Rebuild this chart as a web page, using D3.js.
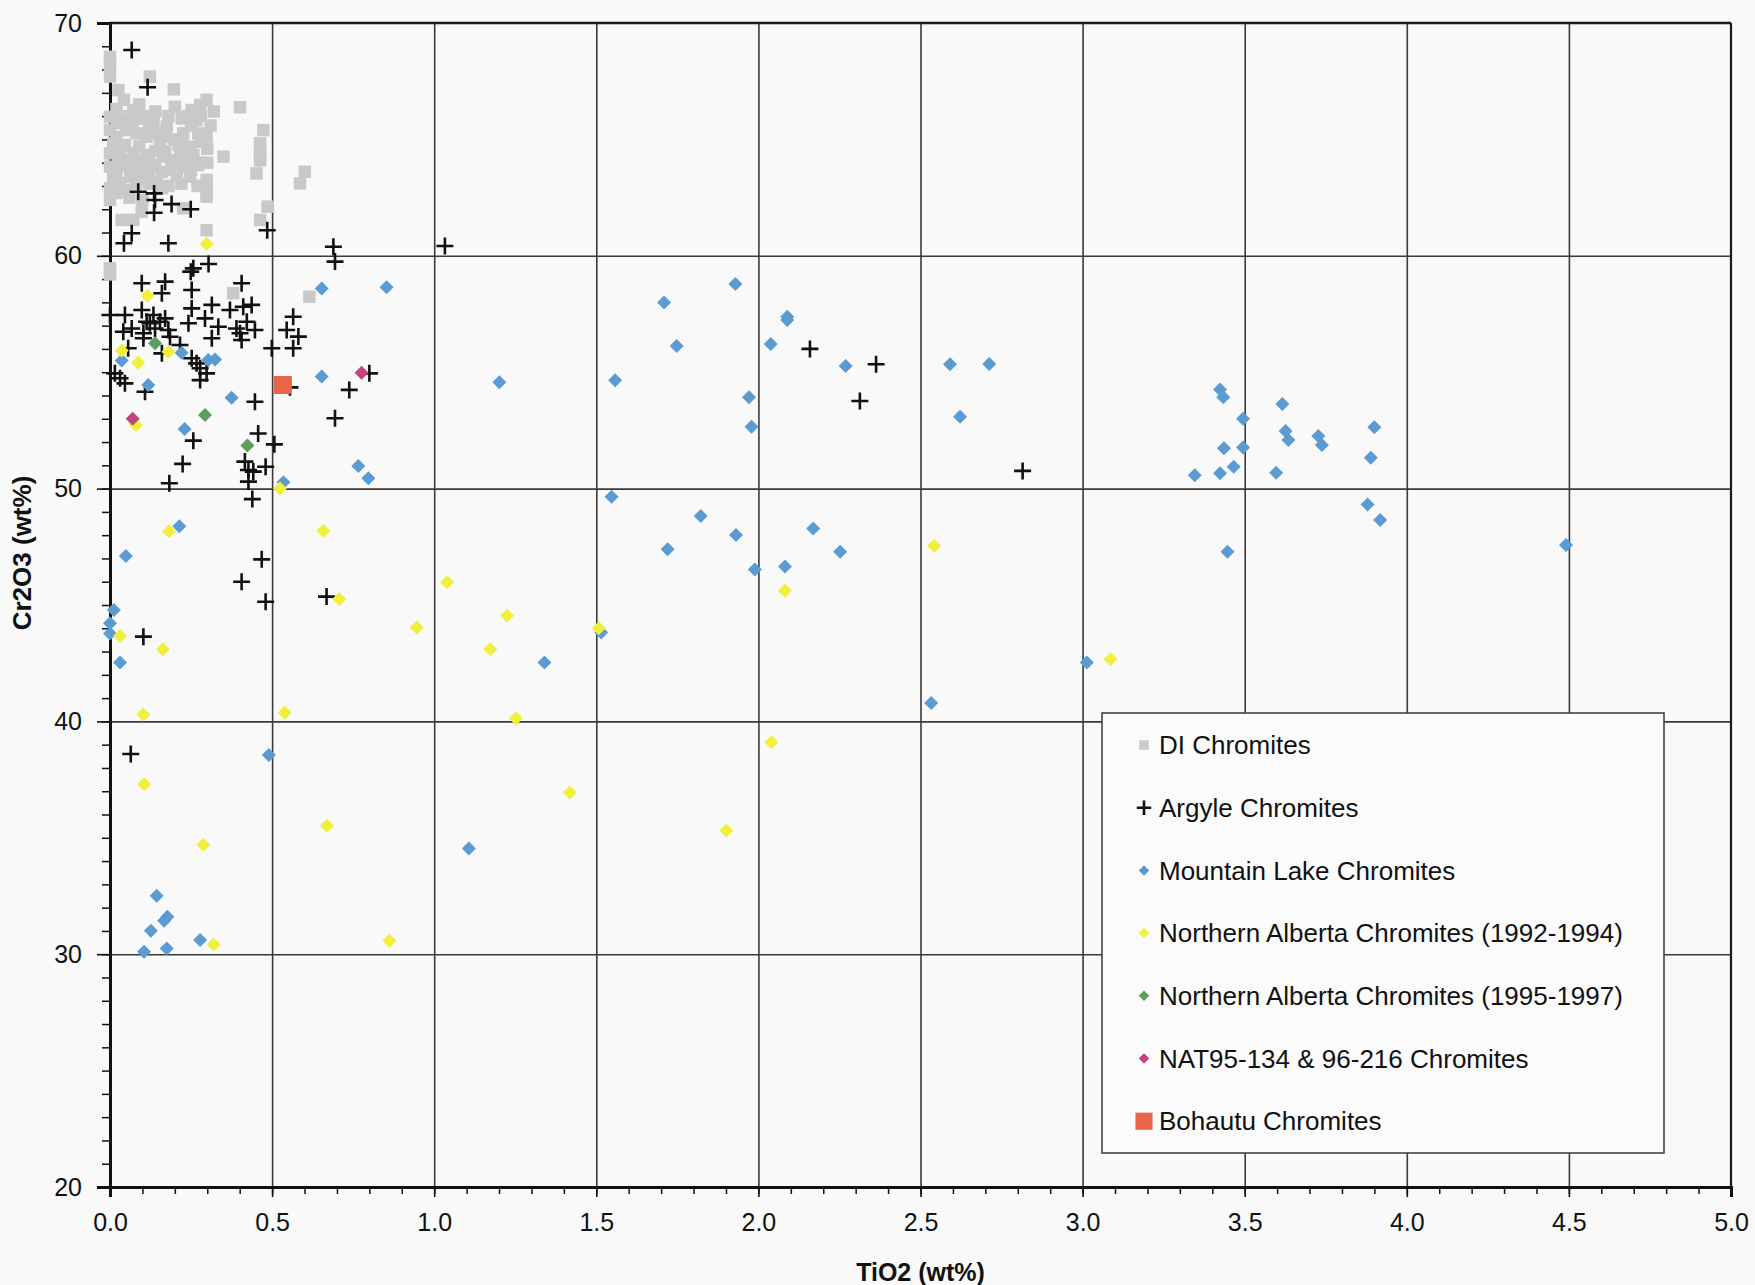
<!DOCTYPE html>
<html>
<head>
<meta charset="utf-8">
<script src="https://cdn.jsdelivr.net/npm/d3@7"></script>
<style>
  html, body { margin: 0; padding: 0; background: #f8f9f8; }
  svg { display: block; }
  text { font-family: "Liberation Sans", Arial, sans-serif; fill: #111; }
</style>
</head>
<body>
<svg id="chart" width="1755" height="1285"></svg>
<script>
// ---------------- DATA (TiO2 wt%, Cr2O3 wt%) ----------------
const diChromites = [
  [0.0,68.55],[0.0,68.12],[0.0,67.7],[0.123,67.7],[0.197,67.15],[0.026,67.12],[0.043,66.7],[0.072,66.26],
  [0.298,66.7],[0.278,66.48],[0.252,66.26],[0.401,66.38],[0.221,65.9],[0.267,65.83],[0.0,65.97],[0.03,65.83],
  [0.093,65.9],[0.134,65.69],[0.175,65.55],[0.473,65.4],[0.0,65.4],[0.05,65.4],[0.082,65.26],[0.113,65.12],
  [0.226,65.26],[0.272,65.26],[0.298,65.12],[0.463,64.83],[0.01,64.83],[0.046,64.76],[0.154,64.83],[0.211,64.76],
  [0.247,64.69],[0.0,64.4],[0.031,64.33],[0.072,64.4],[0.113,64.33],[0.164,64.26],[0.216,64.26],[0.257,64.33],
  [0.35,64.26],[0.463,64.26],[0.0,63.83],[0.05,63.9],[0.093,63.83],[0.139,63.9],[0.226,63.83],[0.272,63.9],
  [0.01,63.4],[0.062,63.4],[0.103,63.33],[0.206,63.47],[0.247,63.4],[0.452,63.54],[0.0,62.9],[0.046,62.83],
  [0.144,63.18],[0.298,62.97],[0.298,62.54],[0.0,62.4],[0.601,63.61],[0.586,63.11],[0.486,62.11],[0.463,61.54],
  [0.036,61.54],[0.072,61.54],[0.098,61.9],[0.226,62.04],[0.298,61.1],[0.0,59.46],[0.0,59.2],[0.38,58.39],
  [0.615,58.24],[0.463,64.55],[0.463,64.1],[0.298,63.26],[0.298,62.68],[0.02,65.1],[0.06,64.1],[0.12,64.0],
  [0.17,64.5],[0.19,63.7],[0.09,64.7],[0.15,65.3],[0.2,65.0],[0.24,64.0],[0.12,63.6],[0.08,63.1],
  [0.18,63.0],[0.25,65.6],[0.28,64.9],[0.3,64.6],[0.11,66.0],[0.06,66.0],
  [0.02,66.3],[0.09,66.5],[0.14,66.2],[0.18,66.0],[0.2,66.4],[0.24,66.0],[0.03,64.1],[0.07,64.0],
  [0.1,64.1],[0.14,64.5],[0.19,64.1],[0.23,64.5],[0.27,64.0],[0.3,64.0],[0.02,63.6],[0.07,63.6],
  [0.16,63.6],[0.2,63.8],[0.25,63.7],[0.03,63.1],[0.12,63.1],[0.16,62.9],[0.22,63.1],[0.27,63.0],
  [0.02,62.7],[0.06,62.5],[0.1,62.4],[0.02,65.7],[0.07,65.6],[0.12,65.5],[0.17,65.1],[0.22,64.9],
  [0.31,65.6],[0.32,66.2],[0.28,66.0]
];
const argyleChromites = [
  [0.067,68.84],[0.116,67.24],[0.087,62.75],[0.136,62.68],[0.139,62.4],[0.136,61.85],[0.19,62.22],[0.249,62.0],
  [0.067,60.97],[0.043,60.54],[0.18,60.54],[0.485,61.1],[0.689,60.39],[0.694,59.75],[1.033,60.42],
  [0.257,59.46],[0.304,59.65],[0.249,59.32],[0.098,58.82],[0.17,58.89],[0.16,58.39],[0.252,58.53],[0.406,58.82],
  [0.252,57.74],[0.314,57.89],[0.293,57.31],[0.242,57.1],[0.334,56.95],[0.314,56.46],[0.37,57.67],[0.411,57.81],
  [0.437,57.89],[0.422,57.17],[0.447,56.81],[0.401,56.67],[0.406,56.38],[0.39,56.88],[0.046,57.46],[0.0,57.46],
  [0.098,57.67],[0.134,57.46],[0.17,57.31],[0.113,57.17],[0.067,56.88],[0.041,56.74],[0.103,56.67],[0.139,56.88],
  [0.18,56.81],[0.123,57.1],[0.154,57.17],[0.185,56.52],[0.103,56.46],[0.216,56.17],[0.16,55.81],[0.056,56.03],
  [0.499,56.03],[0.252,55.6],[0.267,55.38],[0.278,55.17],[0.298,54.95],[0.278,54.66],[0.015,54.95],[0.031,54.74],
  [0.046,54.52],[0.108,54.16],[0.447,53.73],[0.565,57.38],[0.545,56.81],[0.581,56.53],[0.565,56.03],[0.694,53.02],
  [0.457,52.37],[0.555,54.35],[0.8,54.95],[0.738,54.24],[0.257,52.06],[0.507,51.9],[0.224,51.06],[0.183,50.23],
  [0.416,51.16],[0.427,50.8],[0.427,50.3],[0.442,50.73],[0.48,50.94],[0.439,49.55],[0.468,46.96],[0.406,46.0],
  [0.48,45.14],[0.668,45.36],[0.103,43.64],[0.064,38.6],[2.159,56.0],[2.363,55.34],[2.313,53.76],[2.815,50.76]
];
const mountainLakeChromites = [
  [0.036,55.5],[0.118,54.45],[0.221,55.84],[0.303,55.52],[0.324,55.55],[0.375,53.9],[0.23,52.56],[0.214,48.38],
  [0.049,47.1],[0.012,44.78],[0.0,44.22],[0.0,43.78],[0.031,42.53],[0.49,38.56],[0.144,32.51],[0.177,31.61],
  [0.167,31.44],[0.126,31.01],[0.278,30.61],[0.105,30.1],[0.175,30.25],[0.535,50.27],[0.653,54.81],[0.653,58.6],
  [0.853,58.65],[0.766,50.97],[0.797,50.44],[1.201,54.57],[1.558,54.65],[1.547,49.65],[1.929,58.79],[1.709,57.99],
  [2.089,57.38],[2.089,57.24],[1.748,56.13],[2.038,56.21],[2.269,55.27],[1.971,53.92],[1.979,52.66],[2.591,55.34],
  [2.712,55.35],[2.622,53.09],[1.822,48.82],[1.931,48.01],[1.72,47.4],[2.252,47.29],[2.169,48.29],[1.989,46.53],
  [2.082,46.65],[1.34,42.53],[1.515,43.82],[2.533,40.79],[3.013,42.53],[1.107,34.54],
  [3.424,54.26],[3.434,53.92],[3.616,53.63],[3.495,53.0],[3.9,52.63],[3.626,52.47],[3.635,52.09],[3.727,52.26],
  [3.738,51.87],[3.436,51.73],[3.495,51.77],[3.889,51.33],[3.466,50.94],[3.424,50.66],[3.346,50.57],[3.597,50.68],
  [3.879,49.32],[3.918,48.65],[3.447,47.29],[4.491,47.58]
];
const northernAlberta9294 = [
  [0.298,60.52],[0.115,58.28],[0.036,55.93],[0.087,55.41],[0.18,55.88],[0.08,52.73],[0.182,48.17],[0.658,48.19],
  [0.524,50.0],[0.707,45.26],[0.031,43.67],[0.163,43.1],[0.103,40.3],[0.539,40.37],[0.105,37.3],[0.288,34.7],
  [0.32,30.42],[0.669,35.52],[0.862,30.58],[0.946,44.03],[1.04,45.98],[1.225,44.54],[1.173,43.1],[1.252,40.12],
  [1.418,36.95],[1.508,44.0],[1.901,35.31],[2.04,39.1],[2.082,45.61],[2.542,47.55],[3.086,42.67]
];
const northernAlberta9597 = [[0.139,56.24],[0.293,53.16],[0.424,51.85]];
const nat95Chromites = [[0.07,53.0],[0.776,54.98]];
const bohautuChromites = [[0.533,54.45]];

const seriesNames = [
  "DI Chromites",
  "Argyle Chromites",
  "Mountain Lake Chromites",
  "Northern Alberta Chromites (1992-1994)",
  "Northern Alberta Chromites (1995-1997)",
  "NAT95-134 & 96-216 Chromites",
  "Bohautu Chromites"
];
const xTickLabels = [0, 0.5, 1, 1.5, 2, 2.5, 3, 3.5, 4, 4.5, 5];
const yTickLabels = [20, 30, 40, 50, 60, 70];
const xTitle = "TiO2 (wt%)";
const yTitle = "Cr2O3 (wt%)";

// ---------------- LAYOUT ----------------
const svg = d3.select("#chart");
const L = 110, R = 1731, T = 23, B = 1187;
const x = d3.scaleLinear().domain([0, 5]).range([L, R]);
const y = d3.scaleLinear().domain([20, 70]).range([B, T]);

// gridlines
const gx = svg.append("g").attr("transform", `translate(0,${B})`)
  .call(d3.axisBottom(x).tickValues(xTickLabels.slice(1, -1)).tickSize(-(B - T)).tickFormat(""));
gx.select(".domain").remove();
gx.selectAll("line").attr("stroke", "#3a3a3a").attr("stroke-width", 1.6);
const gy = svg.append("g").attr("transform", `translate(${L},0)`)
  .call(d3.axisLeft(y).tickValues(yTickLabels.slice(1, -1)).tickSize(-(R - L)).tickFormat(""));
gy.select(".domain").remove();
gy.selectAll("line").attr("stroke", "#3a3a3a").attr("stroke-width", 1.6);

// frame (top/right)
svg.append("line").attr("x1", L).attr("x2", R).attr("y1", y(70)).attr("y2", y(70)).attr("stroke", "#1a1a1a").attr("stroke-width", 2.5);
svg.append("line").attr("x1", R).attr("x2", R).attr("y1", T).attr("y2", B).attr("stroke", "#1a1a1a").attr("stroke-width", 2.2);

// minor ticks
const minorX = d3.range(0, 5.0001, 0.1);
const mx = svg.append("g").attr("transform", `translate(0,${B})`)
  .call(d3.axisBottom(x).tickValues(minorX).tickSize(7).tickFormat(""));
mx.select(".domain").remove();
mx.selectAll("line").attr("stroke", "#111").attr("stroke-width", 1.5);
const minorY = d3.range(20, 70.0001, 1);
const my = svg.append("g").attr("transform", `translate(${L},0)`)
  .call(d3.axisLeft(y).tickValues(minorY).tickSize(8).tickFormat(""));
my.select(".domain").remove();
my.selectAll("line").attr("stroke", "#111").attr("stroke-width", 1.5);

// major axes
const ax = svg.append("g").attr("transform", `translate(0,${B})`)
  .call(d3.axisBottom(x).tickValues(xTickLabels).tickSize(10).tickPadding(16).tickFormat(d3.format(".1f")));
ax.select(".domain").attr("stroke", "#111").attr("stroke-width", 3);
ax.selectAll("line").attr("stroke", "#111").attr("stroke-width", 1.6);
ax.selectAll("text").attr("font-size", 25).attr("fill", "#111")
  .style("font-family", '"Liberation Sans", Arial, sans-serif');

const ay = svg.append("g").attr("transform", `translate(${L},0)`)
  .call(d3.axisLeft(y).tickValues(yTickLabels).tickSize(13).tickPadding(15).tickFormat(d3.format("d")));
ay.select(".domain").attr("stroke", "#111").attr("stroke-width", 3);
ay.selectAll("line").attr("stroke", "#111").attr("stroke-width", 1.6);
ay.selectAll("text").attr("font-size", 25).attr("fill", "#111")
  .style("font-family", '"Liberation Sans", Arial, sans-serif');

// axis titles
svg.append("text").attr("x", (L + R) / 2).attr("y", 1281).attr("text-anchor", "middle")
  .attr("font-size", 25).attr("font-weight", "bold").text(xTitle);
svg.append("text").attr("transform", `translate(31,553) rotate(-90)`).attr("text-anchor", "middle")
  .attr("font-size", 26).attr("font-weight", "bold").text(yTitle);

// ---------------- MARKERS ----------------
const plot = svg.append("g");
const diamond = (s) => `M0,${-s}L${s},0L0,${s}L${-s},0Z`;
const styles = [
  { data: diChromites, type: "square", size: 12.5, fill: "#c9c9c9" },
  { data: argyleChromites, type: "plus", size: 8.5, fill: "#111" },
  { data: mountainLakeChromites, type: "diamond", size: 7, fill: "#5a9bd4" },
  { data: northernAlberta9294, type: "diamond", size: 7, fill: "#f0f03c" },
  { data: northernAlberta9597, type: "diamond", size: 7, fill: "#5c9e5c" },
  { data: nat95Chromites, type: "diamond", size: 7, fill: "#c2447c" },
  { data: bohautuChromites, type: "square", size: 18, fill: "#e8654a" }
];

function drawMarker(g, st, px, py, sizeScale) {
  const s = st.size * (sizeScale || 1);
  if (st.type === "square") {
    g.append("rect").attr("x", px - s / 2).attr("y", py - s / 2).attr("width", s).attr("height", s)
      .attr("fill", st.fill);
  } else if (st.type === "plus") {
    g.append("path").attr("d", `M${px - s},${py}H${px + s}M${px},${py - s}V${py + s}`)
      .attr("stroke", st.fill).attr("stroke-width", 2.6).attr("fill", "none");
  } else {
    g.append("path").attr("transform", `translate(${px},${py})`).attr("d", diamond(s)).attr("fill", st.fill);
  }
}

styles.forEach(st => {
  const g = plot.append("g");
  st.data.forEach(d => drawMarker(g, st, x(d[0]), y(d[1])));
});

// ---------------- LEGEND ----------------
const lg = svg.append("g");
lg.append("rect").attr("x", 1102).attr("y", 713).attr("width", 562).attr("height", 440)
  .attr("fill", "#fbfbfb").attr("stroke", "#444").attr("stroke-width", 1.6);
const legendScales = [0.75, 0.85, 0.75, 0.75, 0.75, 0.75, 0.95];
seriesNames.forEach((name, i) => {
  const cy = 745 + i * 62.7;
  drawMarker(lg, styles[i], 1144, cy, legendScales[i]);
  lg.append("text").attr("x", 1159).attr("y", cy).attr("dy", "0.35em")
    .attr("font-size", 26).text(name);
});
</script>
</body>
</html>
